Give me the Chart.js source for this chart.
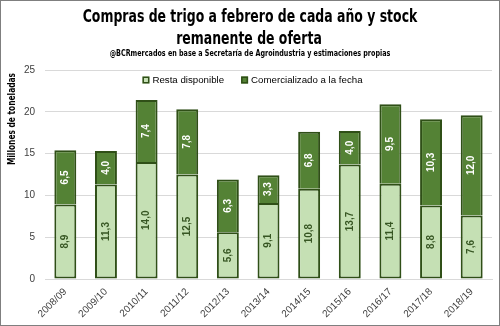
<!DOCTYPE html>
<html><head><meta charset="utf-8">
<script src="https://cdn.jsdelivr.net/npm/chart.js@4"></script>
<style>html,body{margin:0;padding:0;background:#fff}#wrap{width:500px;height:326px;position:relative}</style>
</head><body><div id="wrap"><canvas id="c" width="500" height="326"></canvas></div>
<script>
const categories = ["2008/09","2009/10","2010/11","2011/12","2012/13","2013/14","2014/15","2015/16","2016/17","2017/18","2018/19"];
const restaDisponible = [8.9, 11.3, 14.0, 12.5, 5.6, 9.1, 10.8, 13.7, 11.4, 8.8, 7.6];
const comercializado = [6.5, 4.0, 7.4, 7.8, 6.3, 3.3, 6.8, 4.0, 9.5, 10.3, 12.0];
const yTicks = [0, 5, 10, 15, 20, 25];
const titleLines = ['Compras de trigo a febrero de cada año y stock', 'remanente de oferta'];
const subtitleText = '@BCRmercados en base a Secretaría de Agroindustria y estimaciones propias';
const yTitleText = 'Millones de toneladas';

const COND = '"DejaVu Sans Condensed", "Liberation Sans Narrow", Roboto, sans-serif';
const fmt = v => v.toFixed(1).replace('.', ',');

function squeezedText(ctx, text, x, y, sx) {
  ctx.save();
  ctx.translate(x, y);
  ctx.scale(sx, 1);
  ctx.fillText(text, 0, 0);
  ctx.restore();
}

const titlePlugin = {
  id: 'titles',
  afterDraw(chart) {
    const ctx = chart.ctx;
    ctx.save();
    ctx.fillStyle = '#000';
    ctx.textAlign = 'center';
    ctx.textBaseline = 'middle';
    ctx.font = 'bold 18px ' + COND;
    squeezedText(ctx, titleLines[0], 250, 17.5, 0.77);
    squeezedText(ctx, titleLines[1], 249, 39.5, 0.77);
    ctx.font = 'bold 9px ' + COND;
    squeezedText(ctx, subtitleText, 250, 54, 0.79);
    ctx.font = 'bold 10.5px ' + COND;
    ctx.translate(12, 73);
    ctx.rotate(-Math.PI / 2);
    ctx.textAlign = 'right';
    ctx.scale(0.79, 1);
    ctx.fillText(yTitleText, 0, 0);
    ctx.restore();
  }
};

const labelPlugin = {
  id: 'barLabels',
  afterDatasetsDraw(chart) {
    const ctx = chart.ctx;
    chart.data.datasets.forEach((ds, di) => {
      const meta = chart.getDatasetMeta(di);
      meta.data.forEach((bar, i) => {
        const p = bar.getProps(['x', 'y', 'base'], true);
        const cy = (p.y + p.base) / 2;
        ctx.save();
        ctx.translate(p.x, cy);
        ctx.rotate(-Math.PI / 2);
        ctx.font = 'bold 10px "Liberation Sans"';
        ctx.fillStyle = di === 0 ? '#375623' : '#ffffff';
        ctx.textAlign = 'center';
        ctx.textBaseline = 'middle';
        ctx.fillText(fmt(ds.data[i]), 0, 0);
        ctx.restore();
      });
    });
  }
};
const legendPlugin = {
  id: 'innerLegend',
  afterDraw(chart) {
    const ctx = chart.ctx;
    const ds = chart.data.datasets;
    ctx.save();
    ctx.font = '9.7px "Liberation Sans"';
    ctx.textBaseline = 'middle';
    const box = 7, gapBox = 3, gapItem = 17;
    const widths = ds.map(d => box + gapBox + ctx.measureText(d.label).width);
    const total = widths.reduce((a, b) => a + b, 0) + gapItem * (ds.length - 1);
    let x = 252.5 - total / 2;
    const y = chart.chartArea.top + 10;
    ds.forEach((d, i) => {
      ctx.fillStyle = d.backgroundColor;
      ctx.fillRect(x, y - box / 2, box, box);
      ctx.strokeStyle = '#2f4f17';
      ctx.lineWidth = 1.5;
      ctx.strokeRect(x + 0.75, y - box / 2 + 0.75, box - 1.5, box - 1.5);
      ctx.fillStyle = '#000';
      ctx.fillText(d.label, x + box + gapBox, y + 0.5);
      x += widths[i] + gapItem;
    });
    ctx.restore();
  }
};
const borderPlugin = {
  id: 'frame',
  afterDraw(chart) {
    const ctx = chart.ctx;
    ctx.save();
    ctx.strokeStyle = '#7f7f7f';
    ctx.lineWidth = 1;
    ctx.strokeRect(0.5, 0.5, chart.width - 1, chart.height - 1);
    ctx.restore();
  },
  beforeDraw(chart) {
    const ctx = chart.ctx;
    ctx.save();
    ctx.fillStyle = '#fff';
    ctx.fillRect(0, 0, chart.width, chart.height);
    ctx.restore();
  }
};

new Chart(document.getElementById('c'), {
  type: 'bar',
  data: {
    labels: categories,
    datasets: [
      { label: 'Resta disponible', data: restaDisponible, backgroundColor: '#c5e0b4', borderColor: '#2f4f17', borderWidth: 2, borderSkipped: false },
      { label: 'Comercializado a la fecha', data: comercializado, backgroundColor: '#548235', borderColor: '#2f4f17', borderWidth: 2, borderSkipped: 'bottom' }
    ]
  },
  options: {
    responsive: false,
    animation: false,
    devicePixelRatio: 1,
    layout: { padding: { left: 4, right: 8, top: 70, bottom: 0 } },
    datasets: { bar: { barPercentage: 0.54, categoryPercentage: 1 } },
    plugins: {
      title: { display: false },
      subtitle: { display: false },
      legend: { display: false },
      tooltip: { enabled: false }
    },
    scales: {
      x: {
        stacked: true,
        grid: { display: false, drawTicks: false },
        border: { display: true, color: '#d9d9d9' },
        ticks: { minRotation: 45, maxRotation: 45, color: '#404040', font: { family: '"Liberation Sans"', size: 10 }, padding: 7 },
        afterFit(s) { s.height = 47; }
      },
      y: {
        stacked: true,
        min: 0, max: 25,
        afterBuildTicks(s) { s.ticks = yTicks.map(v => ({ value: v })); },
        grid: { color: '#d9d9d9', drawTicks: false },
        border: { display: false },
        ticks: { color: '#404040', font: { family: '"Liberation Sans"', size: 10 }, padding: 10 },
        afterFit(s) { s.width = 41; }
      }
    }
  },
  plugins: [labelPlugin, legendPlugin, titlePlugin, borderPlugin]
});
</script></body></html>
